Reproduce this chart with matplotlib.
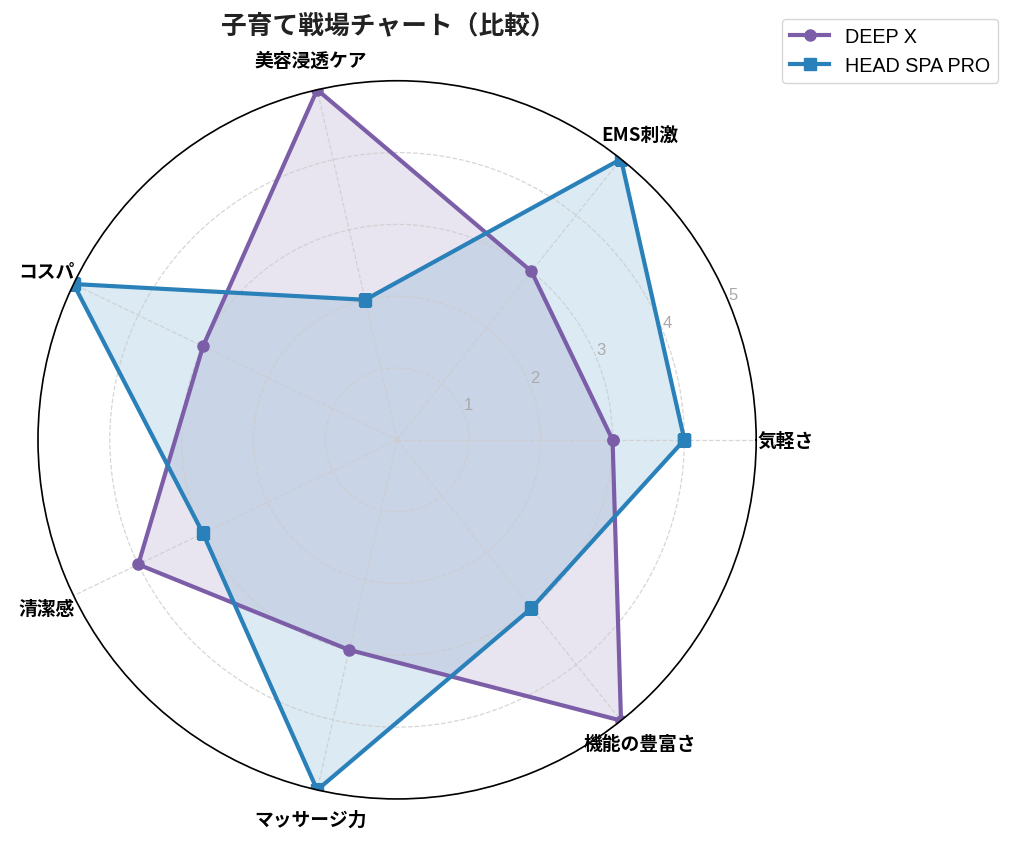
import numpy as np
import matplotlib.pyplot as plt

plt.rcParams['font.family'] = ['Noto Sans CJK JP', 'DejaVu Sans']

categories = ["気軽さ", "EMS刺激", "美容浸透ケア", "コスパ", "清潔感", "マッサージ力", "機能の豊富さ"]
deep_x = [3, 3, 5, 3, 4, 3, 5]
head_spa_pro = [4, 5, 2, 5, 3, 5, 3]
r_ticks = [1, 2, 3, 4, 5]

series = [
    ("DEEP X", deep_x, "#7b5ea7", "o"),
    ("HEAD SPA PRO", head_spa_pro, "#2a80b9", "s"),
]

n = len(categories)
angles = np.linspace(0, 2 * np.pi, n, endpoint=False).tolist()
angles_closed = angles + angles[:1]

fig = plt.figure(figsize=(10.13, 8.45), dpi=100)
ax = fig.add_axes([0.0375, 0.0533, 0.709, 0.85], projection="polar")

for name, vals, color, marker in series:
    v = vals + vals[:1]
    ax.plot(angles_closed, v, color=color, linewidth=3, marker=marker, markersize=8, label=name)
    ax.fill(angles_closed, v, color=color, alpha=0.16)

ax.set_ylim(0, 5)
ax.set_yticks(r_ticks)
ax.set_yticklabels([str(t) for t in r_ticks], color="#aaaaaa", fontsize=12,
                   family=["Liberation Sans"])
ax.set_rlabel_position(22.5)
ax.set_xticks(angles)
ax.set_xticklabels(categories, fontsize=13.5, fontweight="bold")
ax.tick_params(axis="x", pad=11)
ax.grid(color="#cccccc", linestyle="--", linewidth=0.9, alpha=0.8)
ax.spines["polar"].set_color("black")
ax.spines["polar"].set_linewidth(1.2)

fig.text(0.383, 0.969, "子育て戦場チャート（比較）", ha="center", va="center",
         fontsize=18.5, fontweight="bold", color="#222222")

fig.legend(loc="upper right", bbox_to_anchor=(0.995, 0.988),
           prop={"family": ["Liberation Sans"], "size": 14.2})

fig.savefig("out.png", dpi=100)
